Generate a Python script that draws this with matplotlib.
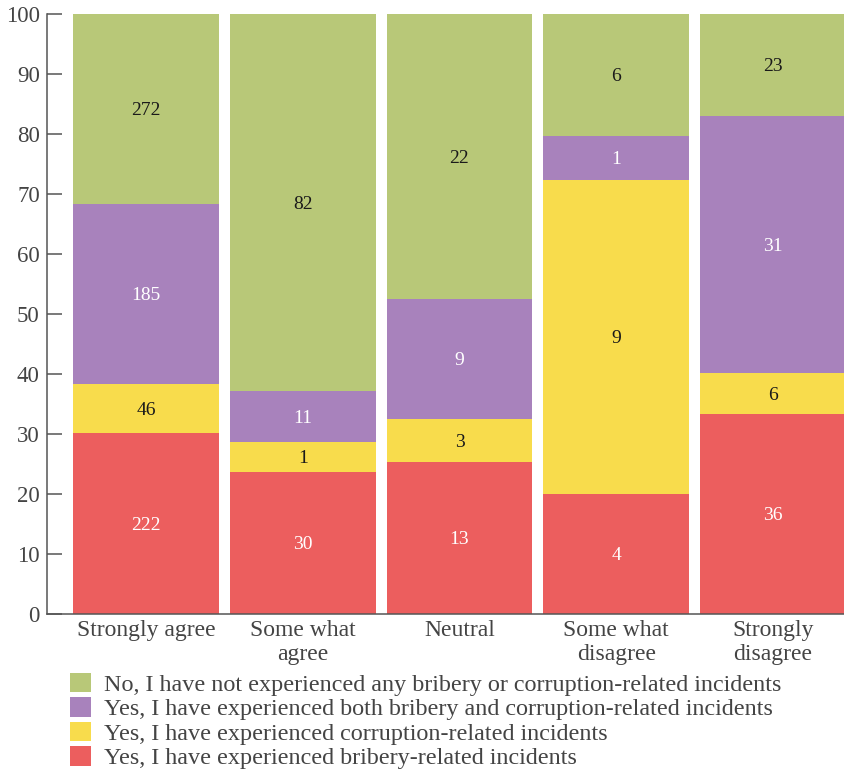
import matplotlib
matplotlib.use('Agg')
import matplotlib.pyplot as plt
from matplotlib.patches import Patch
import numpy as np

# ---- data (percent heights, labels are counts) ----
categories = ['Strongly agree', 'Some what\nagree', 'Neutral', 'Some what\ndisagree', 'Strongly\ndisagree']

series_names = [
    'Yes, I have experienced bribery-related incidents',
    'Yes, I have experienced corruption-related incidents',
    'Yes, I have experienced both bribery and corruption-related incidents',
    'No, I have not experienced any bribery or corruption-related incidents',
]

bribery_pct    = [30.2, 23.7, 25.4, 20.0, 33.4]
corruption_pct = [8.1, 5.0, 7.1, 52.4, 6.7]
both_pct       = [30.0, 8.5, 20.0, 7.2, 42.9]
none_pct       = [31.7, 62.8, 47.5, 20.4, 17.0]

bribery_n    = [222, 30, 13, 4, 36]
corruption_n = [46, 1, 3, 9, 6]
both_n       = [185, 11, 9, 1, 31]
none_n       = [272, 82, 22, 6, 23]

colors = ['#EC5E5E', '#F8DC4C', '#A882BC', '#B8C878']
text_colors = ['white', '#1a1a1a', 'white', '#1a1a1a']

plt.rcParams['font.family'] = ['Liberation Serif', 'DejaVu Serif']

fig = plt.figure(figsize=(8.45, 7.73), dpi=100)
ax = fig.add_axes([46.7 / 845, 159 / 773, (846 - 46.7) / 845, 600 / 773])

x = np.arange(len(categories))
width = 0.93
pcts = [bribery_pct, corruption_pct, both_pct, none_pct]
counts = [bribery_n, corruption_n, both_n, none_n]

bottom = np.zeros(len(categories))
for vals, ns, c, tc in zip(pcts, counts, colors, text_colors):
    vals = np.array(vals)
    ax.bar(x, vals, width, bottom=bottom, color=c, linewidth=0)
    for xi, b, v, n in zip(x, bottom, vals, ns):
        ax.text(xi, b + v / 2 - 0.3, str(n), ha='center', va='center', color=tc, fontsize=14)
    bottom += vals

ax.set_xlim(-0.6325, 4.465)
ax.set_ylim(0, 100)
ax.set_yticks(range(0, 101, 10))
ax.set_xticks(x)
ax.set_xticklabels(categories, fontsize=17, color='#444444', linespacing=1.2)
ax.tick_params(axis='x', length=0, pad=4)
ax.tick_params(axis='y', direction='in', length=11, width=1.1, color='#555555',
               labelsize=16.5, labelcolor='#444444', pad=5)

for s in ['top', 'right']:
    ax.spines[s].set_visible(False)
for s in ['left', 'bottom']:
    ax.spines[s].set_color('#555555')
    ax.spines[s].set_linewidth(1.1)

handles = [Patch(facecolor=c, edgecolor='none') for c in colors]
fig.legend(handles[::-1], series_names[::-1], loc='upper left',
           bbox_to_anchor=(70 / 845, 1 - 673 / 773), frameon=False,
           handlelength=0.85, handleheight=0.85, handletextpad=0.55,
           labelspacing=0.06, borderaxespad=0, borderpad=0,
           prop={'size': 17.4}, labelcolor='#444444')

fig.savefig('out.png', dpi=100)
